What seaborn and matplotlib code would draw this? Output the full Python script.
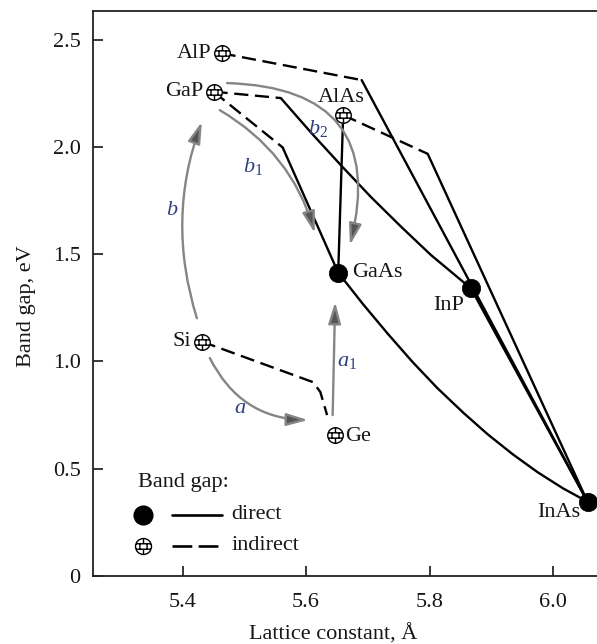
import numpy as np
import matplotlib
matplotlib.use("Agg")
import matplotlib.pyplot as plt
from matplotlib.path import Path
import seaborn as sns

# ---- compounds: lattice constant (Angstrom) and band gap (eV) ----
direct_names = ["GaAs", "InP", "InAs"]
direct_a = [5.652, 5.867, 6.056]
direct_eg = [1.414, 1.341, 0.346]

indirect_names = ["AlP", "GaP", "AlAs", "Si", "Ge"]
indirect_a = [5.463, 5.450, 5.660, 5.431, 5.646]
indirect_eg = [2.437, 2.258, 2.149, 1.093, 0.658]

# ---- alloy branches: indirect-gap parts (dashed) ----
alp_inas_ind_a, alp_inas_ind_eg = [5.463, 5.690], [2.437, 2.312]
alas_inas_ind_a, alas_inas_ind_eg = [5.660, 5.797], [2.149, 1.968]
gap_inp_ind_a, gap_inp_ind_eg = [5.450, 5.559], [2.258, 2.228]
gap_gaas_ind_a, gap_gaas_ind_eg = [5.450, 5.562], [2.258, 1.998]
si_ge_a = [5.431, 5.611, 5.623, 5.634]
si_ge_eg = [1.093, 0.904, 0.858, 0.750]

# ---- alloy branches: direct-gap parts (solid) ----
alp_inas_dir_a, alp_inas_dir_eg = [5.690, 6.056], [2.312, 0.346]
alas_inas_dir_a, alas_inas_dir_eg = [5.797, 6.056], [1.968, 0.346]
gap_inp_dir_a = [5.559, 5.608, 5.657, 5.705, 5.754, 5.802, 5.867]
gap_inp_dir_eg = [2.228, 2.067, 1.913, 1.767, 1.628, 1.497, 1.341]
gap_gaas_dir_a, gap_gaas_dir_eg = [5.562, 5.652], [1.998, 1.414]
alas_gaas_a, alas_gaas_eg = [5.660, 5.652], [2.149, 1.414]
gaas_inas_a = [5.652, 5.692, 5.733, 5.773, 5.813, 5.854,
               5.894, 5.935, 5.975, 6.016, 6.056]
gaas_inas_eg = [1.414, 1.268, 1.127, 0.996, 0.875, 0.763,
                0.661, 0.567, 0.484, 0.409, 0.346]
inp_inas_a, inp_inas_eg = [5.867, 6.056], [1.341, 0.346]

# ---- transition arrows ----
arrow_labels = ["a", "a_1", "b", "b_1", "b_2"]
arrow_start_a = [5.444, 5.643, 5.423, 5.460, 5.472]
arrow_start_eg = [1.016, 0.750, 1.202, 2.172, 2.298]
arrow_end_a = [5.603, 5.647, 5.431, 5.614, 5.671]
arrow_end_eg = [0.727, 1.277, 2.117, 1.599, 1.543]
arrow_rad = [0.30, 0.0, -0.17, -0.20, -0.62]
arrow_label_a = [5.493, 5.666, 5.383, 5.514, 5.619]
arrow_label_eg = [0.783, 0.998, 1.706, 1.907, 2.088]

x_ticks = [5.4, 5.6, 5.8, 6.0]
x_ticklabels = ["5.4", "5.6", "5.8", "6.0"]
y_ticks = [0, 0.5, 1.0, 1.5, 2.0, 2.5]
y_ticklabels = ["0", "0.5", "1.0", "1.5", "2.0", "2.5"]

# ---- style ----
sns.set_style("ticks")
plt.rcParams["font.family"] = ["Liberation Serif", "DejaVu Serif"]
plt.rcParams["mathtext.fontset"] = "custom"
plt.rcParams["mathtext.rm"] = "Liberation Serif"
plt.rcParams["mathtext.it"] = "Liberation Serif:italic"
TXT = "#161616"
LAB = "#2f3f80"
GRAY = "#858585"
FS = 16

# brick-patterned circle marker for indirect-gap materials
circ = Path.unit_circle()
verts = list(circ.vertices)
codes = list(circ.codes)
h = 0.34
w = np.sqrt(1 - h * h)


def _seg(p, q):
    verts.extend([p, q])
    codes.extend([Path.MOVETO, Path.LINETO])


_seg((-w, h), (w, h))
_seg((-w, -h), (w, -h))
_seg((0.0, h), (0.0, 1.0))
_seg((-0.45, -h), (-0.45, h))
_seg((0.45, -h), (0.45, h))
_seg((0.0, -h), (0.0, -1.0))
brick = Path(verts, codes)

fig = plt.figure(figsize=(5.97, 6.44), dpi=100)
ax = fig.add_axes([93 / 597, 68 / 644, 504 / 597, 565 / 644])

ind_style = dict(color="black", lw=1.7, dashes=(6.0, 2.8), sort=False,
                 estimator=None, ax=ax, zorder=2)
dir_style = dict(color="black", lw=1.7, sort=False, estimator=None, ax=ax, zorder=2)

for xs, ys in [(alp_inas_ind_a, alp_inas_ind_eg), (alas_inas_ind_a, alas_inas_ind_eg),
               (gap_inp_ind_a, gap_inp_ind_eg), (gap_gaas_ind_a, gap_gaas_ind_eg),
               (si_ge_a, si_ge_eg)]:
    sns.lineplot(x=xs, y=ys, **ind_style)

for xs, ys in [(alp_inas_dir_a, alp_inas_dir_eg), (alas_inas_dir_a, alas_inas_dir_eg),
               (gap_inp_dir_a, gap_inp_dir_eg), (gap_gaas_dir_a, gap_gaas_dir_eg),
               (alas_gaas_a, alas_gaas_eg), (gaas_inas_a, gaas_inas_eg),
               (inp_inas_a, inp_inas_eg)]:
    sns.lineplot(x=xs, y=ys, **dir_style)

# transition arrows
for lab, xa, ya, xb, yb, r, lx, ly in zip(arrow_labels, arrow_start_a, arrow_start_eg,
                                         arrow_end_a, arrow_end_eg, arrow_rad,
                                         arrow_label_a, arrow_label_eg):
    ax.annotate("", xy=(xb, yb), xytext=(xa, ya),
                arrowprops=dict(arrowstyle="-|>,head_length=1.3,head_width=0.38",
                                mutation_scale=10, ec=GRAY, fc="#555555", lw=1.7,
                                shrinkA=0, shrinkB=0,
                                connectionstyle=f"arc3,rad={r}"), zorder=3)
    ax.text(lx, ly, f"${lab}$", fontsize=FS, color=LAB, ha="center", va="center")

# compound markers
sns.scatterplot(x=direct_a, y=direct_eg, s=175, color="black", edgecolor="black",
                linewidth=0.5, ax=ax, zorder=5)
sns.scatterplot(x=indirect_a, y=indirect_eg, marker=brick, s=125, color="white",
                edgecolor="black", linewidth=1.0, ax=ax, zorder=5)

# compound names
name_offsets = {
    "AlP": ((-7.5, 0), "right", "center"),
    "GaP": ((-7, 0), "right", "center"),
    "AlAs": ((-1.5, 12.5), "center", "center"),
    "GaAs": ((10, 0), "left", "center"),
    "InP": ((-5, -12), "right", "center"),
    "InAs": ((-5.5, -8), "right", "center"),
    "Si": ((-7.5, 0), "right", "center"),
    "Ge": ((7.5, -1.5), "left", "center"),
}
for names, xs, ys in [(direct_names, direct_a, direct_eg),
                      (indirect_names, indirect_a, indirect_eg)]:
    for n, x, y in zip(names, xs, ys):
        off, ha, va = name_offsets[n]
        ax.annotate(n, (x, y), xytext=off, textcoords="offset points",
                    ha=ha, va=va, fontsize=FS, color=TXT, zorder=6)

# key
T = ax.transAxes
ax.text(0.089, 0.166, "Band gap:", transform=T, fontsize=FS, color=TXT,
        ha="left", va="center")
ax.plot([0.0992], [0.108], marker="o", ms=13.5, color="black", transform=T,
        clip_on=False)
ax.plot([0.157, 0.256], [0.108, 0.108], color="black", lw=1.9, transform=T)
ax.text(0.274, 0.108, "direct", transform=T, fontsize=FS, color=TXT,
        ha="left", va="center")
ax.plot([0.0992], [0.0531], marker=brick, ms=11.5, mfc="white", mec="black",
        mew=1.0, transform=T)
ax.plot([0.157, 0.256], [0.0531, 0.0531], color="black", lw=1.9,
        dashes=(7.5, 2.4), transform=T)
ax.text(0.274, 0.0531, "indirect", transform=T, fontsize=FS, color=TXT,
        ha="left", va="center")

# axes
ax.set_xlim(5.2547, 6.0713)
ax.set_ylim(0, 2.634)
ax.set_xticks(x_ticks)
ax.set_xticklabels(x_ticklabels)
ax.set_yticks(y_ticks)
ax.set_yticklabels(y_ticklabels)
ax.tick_params(direction="in", length=7, width=1.2, labelsize=FS,
               colors=TXT, top=False, right=False)
ax.tick_params(axis="x", pad=12)
ax.tick_params(axis="y", pad=9)
for side in ["left", "bottom", "top"]:
    ax.spines[side].set_linewidth(1.3)
    ax.spines[side].set_color("#222222")
ax.spines["right"].set_visible(False)

ax.set_xlabel("Lattice constant, Å", fontsize=FS, color=TXT)
ax.set_ylabel("Band gap, eV", fontsize=FS, color=TXT)
ax.xaxis.set_label_coords(0.476, -0.1025)
ax.xaxis.label.set_va("center")
ax.yaxis.set_label_coords(-0.131, 0.478)
ax.yaxis.label.set_va("center")

fig.savefig("out.png", dpi=100)
